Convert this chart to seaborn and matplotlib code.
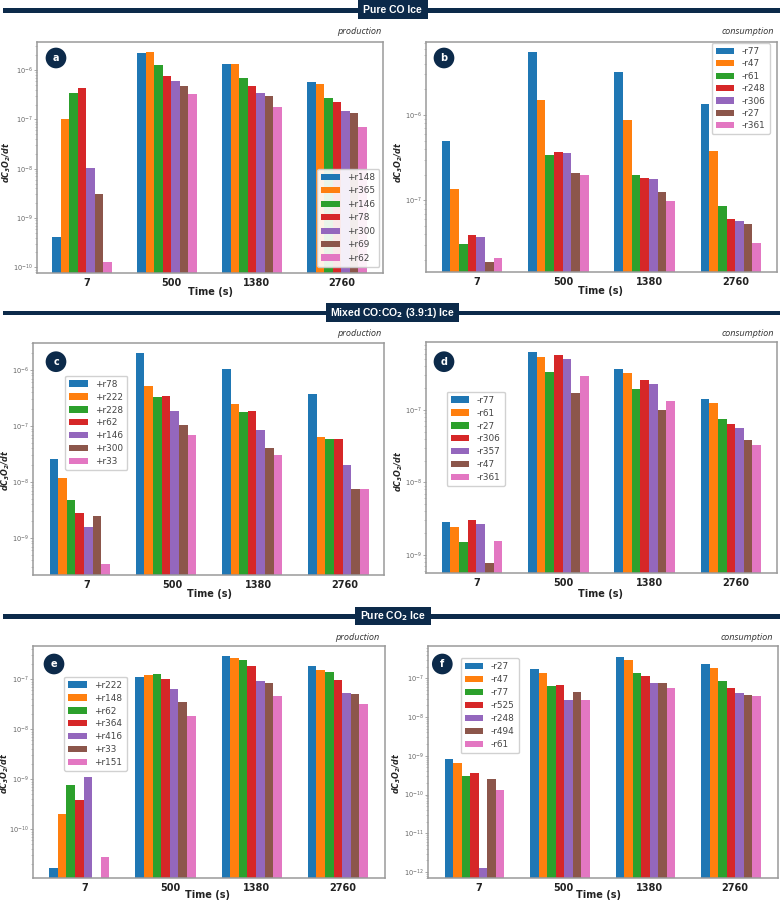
import numpy as np
import pandas as pd
import matplotlib
matplotlib.use("Agg")
import matplotlib.pyplot as plt
from matplotlib.patches import Rectangle
from matplotlib.ticker import NullFormatter
import seaborn as sns

times = ["7", "500", "1380", "2760"]

# Rates per time step; each row lists the reactions in legend order.
a_labels = ["+r148", "+r365", "+r146", "+r78", "+r300", "+r69", "+r62"]
a_values = [[4.1e-10, 1.0e-7, 3.4e-7, 4.3e-7, 1.05e-8, 3.0e-9, 1.26e-10],
            [2.2e-6, 2.3e-6, 1.25e-6, 7.6e-7, 6.0e-7, 4.8e-7, 3.3e-7],
            [1.32e-6, 1.30e-6, 6.8e-7, 4.7e-7, 3.5e-7, 2.95e-7, 1.8e-7],
            [5.6e-7, 5.2e-7, 2.7e-7, 2.2e-7, 1.48e-7, 1.32e-7, 7.1e-8]]

b_labels = ["-r77", "-r47", "-r61", "-r248", "-r306", "-r27", "-r361"]
b_values = [[4.9e-7, 1.37e-7, 3.1e-8, 3.9e-8, 3.7e-8, 1.9e-8, 2.1e-8],
            [5.4e-6, 1.5e-6, 3.4e-7, 3.7e-7, 3.55e-7, 2.1e-7, 2.0e-7],
            [3.16e-6, 8.8e-7, 2.0e-7, 1.84e-7, 1.76e-7, 1.24e-7, 9.8e-8],
            [1.36e-6, 3.8e-7, 8.66e-8, 6.0e-8, 5.8e-8, 5.3e-8, 3.2e-8]]

c_labels = ["+r78", "+r222", "+r228", "+r62", "+r146", "+r300", "+r33"]
c_values = [[2.54e-8, 1.16e-8, 4.84e-9, 2.75e-9, 1.6e-9, 2.47e-9, 3.45e-10],
            [2.0e-6, 5.1e-7, 3.3e-7, 3.4e-7, 1.88e-7, 1.03e-7, 6.8e-8],
            [1.06e-6, 2.44e-7, 1.78e-7, 1.83e-7, 8.4e-8, 4.0e-8, 3.1e-8],
            [3.7e-7, 6.5e-8, 5.9e-8, 5.9e-8, 2.0e-8, 7.6e-9, 7.4e-9]]

d_labels = ["-r77", "-r61", "-r27", "-r306", "-r357", "-r47", "-r361"]
d_values = [[2.8e-9, 2.41e-9, 1.48e-9, 2.99e-9, 2.65e-9, 7.7e-10, 1.55e-9],
            [6.27e-7, 5.4e-7, 3.3e-7, 5.7e-7, 5.13e-7, 1.72e-7, 2.98e-7],
            [3.69e-7, 3.2e-7, 1.95e-7, 2.6e-7, 2.29e-7, 1.0e-7, 1.33e-7],
            [1.42e-7, 1.24e-7, 7.4e-8, 6.4e-8, 5.7e-8, 3.9e-8, 3.3e-8]]

e_labels = ["+r222", "+r148", "+r62", "+r364", "+r416", "+r33", "+r151"]
e_values = [[1.7e-11, 2.03e-10, 7.7e-10, 3.9e-10, 1.1e-9, np.nan, 2.75e-11],
            [1.13e-7, 1.22e-7, 1.3e-7, 1.03e-7, 6.3e-8, 3.6e-8, 1.88e-8],
            [2.88e-7, 2.67e-7, 2.4e-7, 1.82e-7, 9.4e-8, 8.45e-8, 4.65e-8],
            [1.85e-7, 1.54e-7, 1.42e-7, 9.55e-8, 5.33e-8, 5.0e-8, 3.16e-8]]

f_labels = ["-r27", "-r47", "-r77", "-r525", "-r248", "-r494", "-r61"]
f_values = [[8.1e-10, 6.5e-10, 3.07e-10, 3.7e-10, 1.3e-12, 2.47e-10, 1.28e-10],
            [1.7e-7, 1.37e-7, 6.3e-8, 6.6e-8, 2.7e-8, 4.35e-8, 2.76e-8],
            [3.6e-7, 2.9e-7, 1.37e-7, 1.13e-7, 7.7e-8, 7.4e-8, 5.75e-8],
            [2.3e-7, 1.85e-7, 8.5e-8, 5.5e-8, 4.1e-8, 3.65e-8, 3.57e-8]]

W, H = 783, 901
NAVY = "#0c2a4a"
GREY = "#9a9a9a"

sns.set_theme(style="white", rc={"xtick.bottom": True, "ytick.left": True})
plt.rcParams["font.family"] = ["DejaVu Sans"]
plt.rcParams["mathtext.fontset"] = "dejavusans"

fig = plt.figure(figsize=(W / 100, H / 100), dpi=100, facecolor="white")


def px_rect(x0, y0, x1, y1):
    return [x0 / W, 1 - y1 / H, (x1 - x0) / W, (y1 - y0) / H]


# Layout of each panel, in pixels from the top left of the figure.
panels = [
    dict(tag="a", labels=a_labels, values=a_values, box=(37, 42, 383, 273), ylim=(7.67e-11, 3.7e-6),
         xlim=(-0.53, 3.54), tick=0.053, side="production", side_xy=(381, 32), badge=(56, 58),
         legend=(317, 169), spacing=0.5, ylab=(6.7, 162), xlab=(210, 292)),
    dict(tag="b", labels=b_labels, values=b_values, box=(426, 42, 777, 272), ylim=(1.45e-8, 7.16e-6),
         xlim=(-0.534, 3.535), tick=0.054, side="consumption", side_xy=(774.3, 32), badge=(444, 58),
         legend=(711.7, 43), spacing=0.38, ylab=(399, 162), xlab=(600.7, 291)),
    dict(tag="c", labels=c_labels, values=c_values, box=(33.3, 342.7, 384, 574.7), ylim=(2.21e-10, 3.08e-6),
         xlim=(-0.539, 3.529), tick=0.078, side="production", side_xy=(381, 333), badge=(56, 361.7),
         legend=(65, 375.7), spacing=0.44, ylab=(6, 470), xlab=(210, 594)),
    dict(tag="d", labels=d_labels, values=d_values, box=(426, 342, 777, 573.3), ylim=(5.52e-10, 8.7e-7),
         xlim=(-0.533, 3.534), tick=0.054, side="consumption", side_xy=(774.3, 333), badge=(444, 361.7),
         legend=(446.7, 391.7), spacing=0.44, ylab=(398.5, 471.7), xlab=(600.7, 594)),
    dict(tag="e", labels=e_labels, values=e_values, box=(33, 645.7, 385, 878), ylim=(1.06e-11, 4.71e-7),
         xlim=(-0.537, 3.546), tick=0.058, side="production", side_xy=(379, 637.7), badge=(54, 664),
         legend=(64.3, 676.7), spacing=0.44, ylab=(5, 773), xlab=(207.7, 894.5)),
    dict(tag="f", labels=f_labels, values=f_values, box=(428.3, 645.7, 778, 878), ylim=(7.0e-13, 6.97e-7),
         xlim=(-0.54, 3.55), tick=0.045, side="consumption", side_xy=(772.7, 637.7), badge=(442.3, 664),
         legend=(460.7, 658.3), spacing=0.45, ylab=(397, 773), xlab=(598, 894.5)),
]

for p in panels:
    ax = fig.add_axes(px_rect(*p["box"]))
    ax.set_yscale("log")

    frame = pd.DataFrame(p["values"], columns=p["labels"], index=times)
    frame = frame.rename_axis("time").reset_index().melt("time", var_name="reaction", value_name="rate")

    sns.barplot(data=frame, x="time", y="rate", hue="reaction", hue_order=p["labels"],
                order=times, palette="tab10", saturation=1, width=0.7, gap=0,
                errorbar=None, linewidth=0, ax=ax)

    ax.set_xlim(*p["xlim"])
    ax.set_ylim(*p["ylim"])
    ax.set_xticks(np.arange(len(times)) + p["tick"], times)
    ax.tick_params(axis="x", labelsize=7, length=0, pad=3.5)
    for t in ax.get_xticklabels():
        t.set_fontweight("bold")
        t.set_color("#222222")
    ax.tick_params(axis="y", which="major", labelsize=4.8, length=2, width=0.6,
                   color=GREY, labelcolor="#666666", pad=1)
    ax.tick_params(axis="y", which="minor", length=1.4, width=0.4, color=GREY, left=True)
    ax.yaxis.set_minor_formatter(NullFormatter())

    for s in ax.spines.values():
        s.set_edgecolor(GREY)
        s.set_linewidth(1.1)

    x0, y0, x1, y1 = p["box"]
    bw, bh = x1 - x0, y1 - y0
    to_axes = lambda x, y: ((x - x0) / bw, (y1 - y) / bh)

    ax.set_xlabel("Time (s)", fontsize=7, fontweight="bold", color="#222222", va="center")
    ax.xaxis.set_label_coords(*to_axes(*p["xlab"]))
    ax.set_ylabel(r"$\mathbfit{dC_3O_2/dt}$", fontsize=5.8, color="#222222", va="center")
    ax.yaxis.set_label_coords(*to_axes(*p["ylab"]))

    legend = ax.legend(loc="upper left", bbox_to_anchor=to_axes(*p["legend"]), borderaxespad=0,
                       fontsize=6.4, labelspacing=p["spacing"], framealpha=0.9, title=None,
                       handlelength=2.1, handletextpad=0.85, borderpad=0.45)
    for t in legend.get_texts():
        t.set_color("#444444")

    ax.text(*to_axes(*p["badge"]), p["tag"], transform=ax.transAxes, ha="center", va="center",
            color="white", fontsize=7, fontweight="bold", zorder=6,
            bbox=dict(boxstyle="circle,pad=0.55", facecolor=NAVY, edgecolor="none"))

    fig.text(p["side_xy"][0] / W, 1 - p["side_xy"][1] / H, p["side"], ha="right", va="center",
             fontsize=6.6, style="italic", family="Open Sans", color="#333333")

# Section banners across the full width of the figure.
banners = [
    ("Pure CO Ice", 7.7, 12.7, 357.7, 427.7, 0.3, 19),
    (r"Mixed CO:CO$_{\mathbf{2}}$ (3.9:1) Ice", 310.7, 315.3, 326, 459.3, 303.3, 321.7),
    (r"Pure CO$_{\mathbf{2}}$ Ice", 613.7, 618.7, 355, 430.7, 606.7, 625),
]
for text, ly0, ly1, bx0, bx1, by0, by1 in banners:
    fig.add_artist(Rectangle((3 / W, 1 - ly1 / H), 777 / W, (ly1 - ly0) / H,
                             transform=fig.transFigure, facecolor=NAVY, edgecolor="none"))
    fig.add_artist(Rectangle((bx0 / W, 1 - by1 / H), (bx1 - bx0) / W, (by1 - by0) / H,
                             transform=fig.transFigure, facecolor=NAVY, edgecolor="none"))
    fig.text((bx0 + bx1) / 2 / W, 1 - (by0 + by1) / 2 / H, text, ha="center", va="center",
             color="white", fontsize=7.5, fontweight="bold", family="Liberation Sans", zorder=5)

fig.savefig("out.png", dpi=100)
